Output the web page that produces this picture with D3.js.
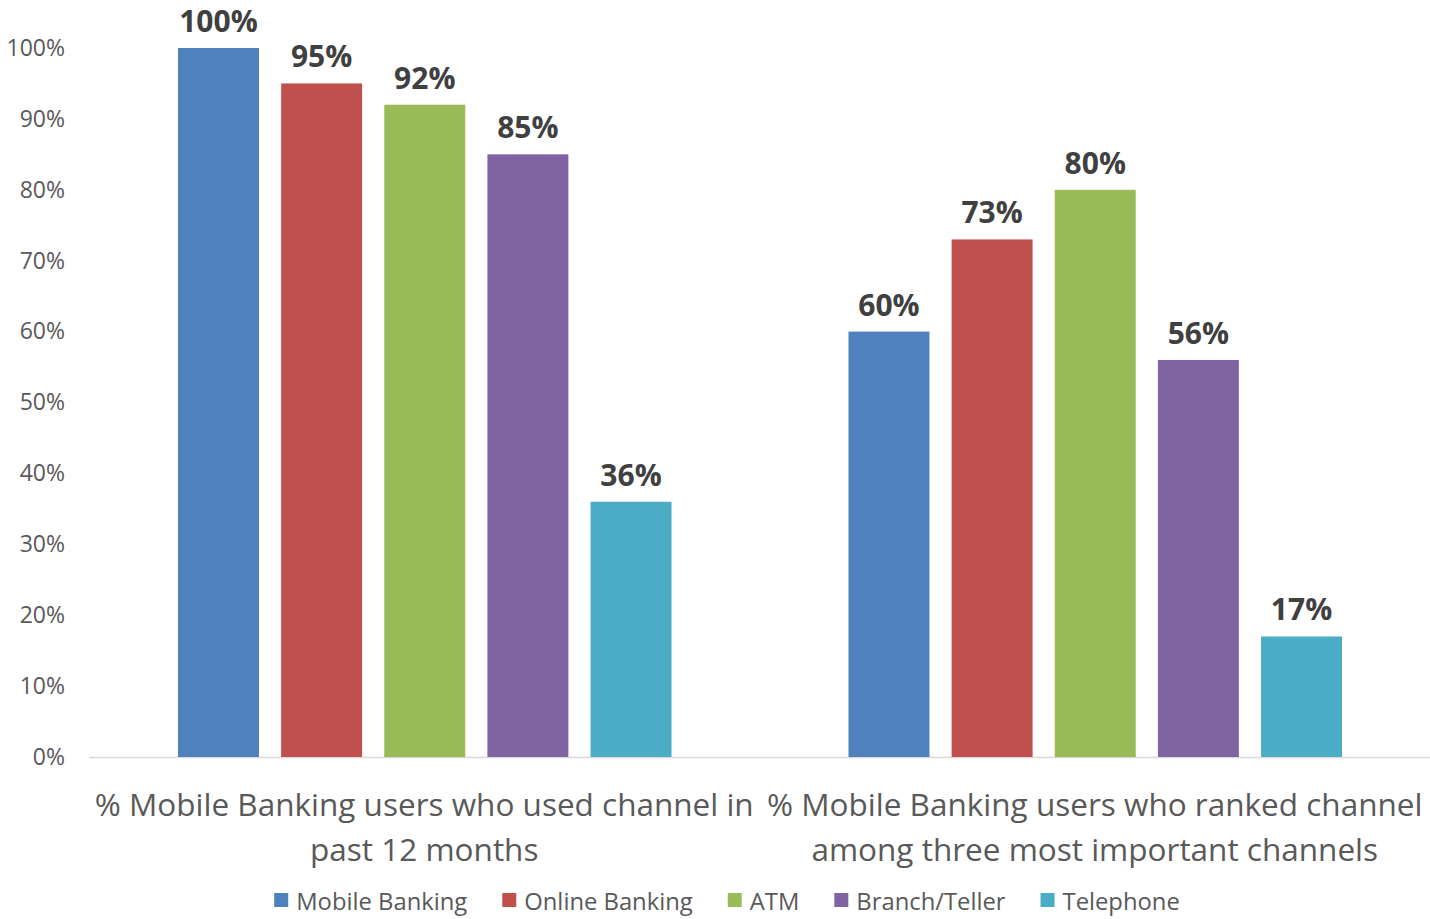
<!DOCTYPE html>
<html><head><meta charset="utf-8">
<script src="https://cdn.jsdelivr.net/npm/d3@7"></script>
<style>body{margin:0;background:#fff;}svg{display:block;}</style>
</head><body>
<svg id="c" width="1430" height="919"></svg>
<script>
const categories = [
  ["% Mobile Banking users who used channel in", "past 12 months"],
  ["% Mobile Banking users who ranked channel", "among three most important channels"]
];
const seriesNames = ["Mobile Banking", "Online Banking", "ATM", "Branch/Teller", "Telephone"];
const seriesColors = ["#4F81BD", "#C0504D", "#9BBB59", "#8064A2", "#4BACC6"];
const usedValues = [100, 95, 92, 85, 36];
const rankedValues = [60, 73, 80, 56, 17];
const yTicks = [0, 10, 20, 30, 40, 50, 60, 70, 80, 90, 100];

const values = [usedValues, rankedValues];
const font = "'Open Sans', sans-serif";
const svg = d3.select("#c");
const m = {left: 89, right: 1430, top: 48, bottom: 757};

const x0 = d3.scaleBand().domain([0, 1]).range([m.left, m.right]).paddingInner(0).paddingOuter(0);
const x1 = d3.scaleBand().domain(d3.range(seriesNames.length)).range([89, x0.bandwidth() - 88]).paddingInner(0.215).paddingOuter(0);
const y = d3.scaleLinear().domain([0, 100]).range([m.bottom, m.top]);

// y axis
const yAxis = d3.axisLeft(y).tickValues(yTicks).tickFormat(d => d + "%").tickSize(0).tickPadding(0);
const yg = svg.append("g").attr("transform", `translate(65,0)`).call(yAxis);
yg.select(".domain").remove();
yg.selectAll("text").attr("font-family", font).attr("font-size", 23).attr("fill", "#595959");

// baseline
svg.append("line").attr("x1", m.left).attr("x2", m.right).attr("y1", y(0) + 0.5).attr("y2", y(0) + 0.5)
  .attr("stroke", "#d9d9d9").attr("stroke-width", 1.5);

const groups = svg.selectAll("g.grp").data(values).join("g").attr("class", "grp")
  .attr("transform", (d, i) => `translate(${x0(i)},0)`);

groups.selectAll("rect").data(d => d.map((v, j) => ({v, j}))).join("rect")
  .attr("x", d => x1(d.j)).attr("width", x1.bandwidth())
  .attr("y", d => y(d.v)).attr("height", d => y(0) - y(d.v))
  .attr("fill", d => seriesColors[d.j]);

groups.selectAll("text.lbl").data(d => d.map((v, j) => ({v, j}))).join("text").attr("class", "lbl")
  .attr("x", d => x1(d.j) + x1.bandwidth() / 2).attr("y", d => y(d.v) - 16)
  .attr("text-anchor", "middle").attr("font-family", font).attr("font-weight", "bold")
  .attr("font-size", 30).attr("fill", "#404040").text(d => d.v + "%");

// category labels
categories.forEach((lines, i) => {
  const t = svg.append("text").attr("text-anchor", "middle").attr("font-family", font)
    .attr("font-size", 31.5).attr("fill", "#595959");
  lines.forEach((ln, k) => {
    t.append("tspan").attr("x", x0(i) + x0.bandwidth() / 2).attr("y", 816 + k * 45).text(ln);
  });
});

// legend
const lg = svg.append("g");
let cx = 0;
seriesNames.forEach((n, i) => {
  const g = lg.append("g").attr("transform", `translate(${cx},0)`);
  g.append("rect").attr("x", 0).attr("y", 893).attr("width", 14).attr("height", 14).attr("fill", seriesColors[i]);
  const t = g.append("text").attr("x", 22).attr("y", 910).attr("font-family", font).attr("font-size", 23.8)
    .attr("fill", "#595959").text(n);
  const w = 22 + t.node().getComputedTextLength();
  cx += w + 35;
});
const total = cx - 35;
lg.attr("transform", `translate(${727 - total / 2},0)`);
</script>
</body></html>
